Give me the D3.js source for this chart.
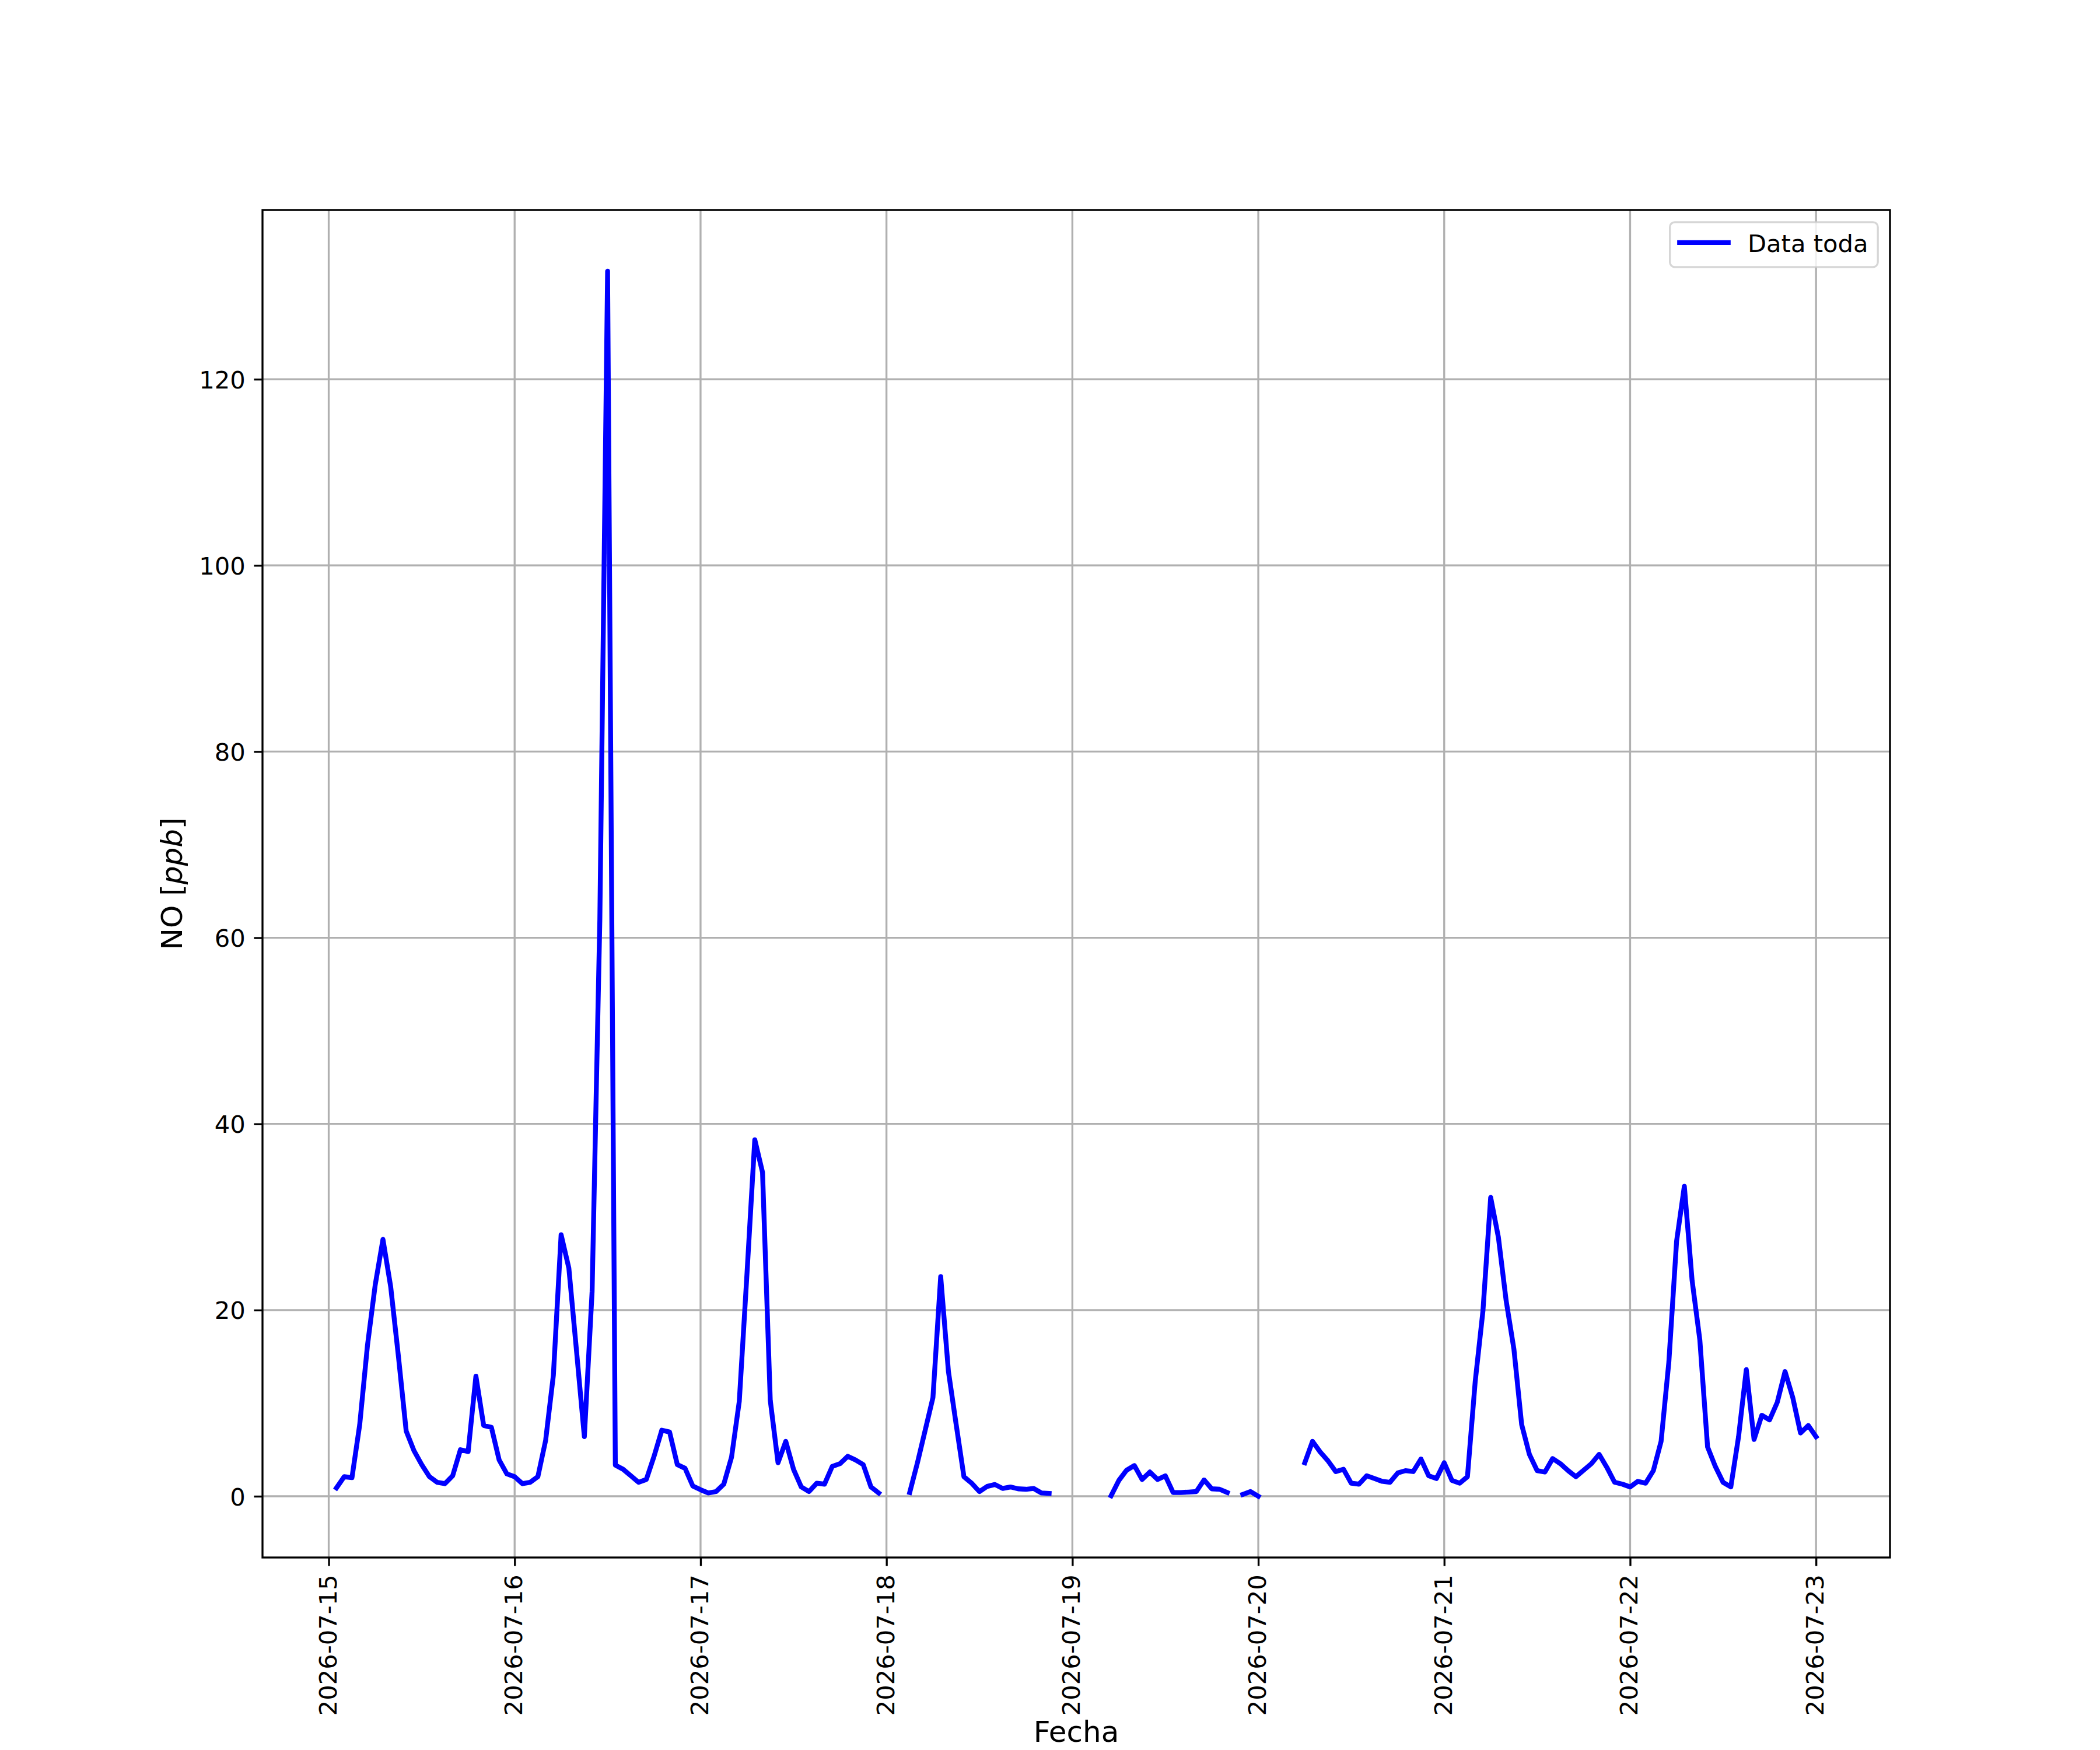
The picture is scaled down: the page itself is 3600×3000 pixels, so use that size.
<!DOCTYPE html>
<html>
<head>
<meta charset="utf-8">
<script src="https://cdn.jsdelivr.net/npm/d3@7"></script>
<style>
  body { margin: 0; background: #fff; }
  text { font-family: "DejaVu Sans", sans-serif; }
</style>
</head>
<body>
<div class="canvas"></div>
<script>
// hourly NO readings, one array per day starting at 00:00 (null = no data)
const startTime = '2026-07-15T00:00:00Z'
const jul15 = [null, 0.9, 2.1, 2.0, 7.7, 16.2, 22.7, 27.6, 22.5, 15.0, 7.0, 4.9, 3.4, 2.1, 1.5, 1.35, 2.2, 5.0, 4.8, 12.9, 7.6, 7.4, 3.9, 2.4]
const jul16 = [2.1, 1.35, 1.5, 2.1, 6.0, 13.0, 28.1, 24.5, 15.5, 6.4, 22.0, 62.0, 131.6, 3.35, 2.9, 2.2, 1.5, 1.8, 4.3, 7.1, 6.9, 3.4, 3.0, 1.1]
const jul17 = [0.7, 0.35, 0.5, 1.3, 4.2, 10.2, 24.0, 38.3, 34.8, 10.3, 3.6, 5.9, 2.9, 1.0, 0.5, 1.4, 1.3, 3.2, 3.5, 4.3, 3.9, 3.4, 1.0, 0.35]
const jul18 = [null, null, null, 0.4, 3.6, 7.1, 10.6, 23.6, 13.4, 7.7, 2.1, 1.4, 0.5, 1.06, 1.26, 0.84, 1.0, 0.8, 0.75, 0.84, 0.35, 0.3, null, null]
const jul19 = [null, null, null, null, null, 0.05, 1.7, 2.8, 3.3, 1.8, 2.6, 1.8, 2.2, 0.4, 0.4, 0.45, 0.5, 1.75, 0.8, 0.75, 0.4, null, 0.2, 0.5]
const jul20 = [0.0, null, null, null, null, null, 3.6, 5.9, 4.75, 3.8, 2.65, 2.9, 1.4, 1.3, 2.2, 1.9, 1.6, 1.5, 2.5, 2.75, 2.65, 4.0, 2.2, 1.9]
const jul21 = [3.6, 1.7, 1.4, 2.1, 12.3, 19.9, 32.1, 27.8, 21.0, 15.8, 7.7, 4.5, 2.75, 2.6, 4.05, 3.5, 2.75, 2.1, 2.8, 3.5, 4.5, 3.1, 1.5, 1.3]
const jul22 = [1.0, 1.6, 1.4, 2.75, 5.9, 14.4, 27.4, 33.3, 23.2, 16.8, 5.3, 3.2, 1.5, 1.0, 6.4, 13.6, 6.1, 8.7, 8.2, 10.1, 13.4, 10.6, 6.8, 7.6]
const jul23 = [6.4]
const days = [jul15, jul16, jul17, jul18, jul19, jul20, jul21, jul22, jul23]

const yTicks = [0, 20, 40, 60, 80, 100, 120]
const seriesName = 'Data toda'
const xTitle = 'Fecha'

const width = 3600
const height = 3000
const margin = {top: 360, right: 360, bottom: 330, left: 450}
const graphWidth = width - margin.left - margin.right
const graphHeight = height - margin.top - margin.bottom
const pt = 300 / 72
const tickFont = 10 * pt
const labelFont = 12 * pt

const svg = d3.select('.canvas')
  .append('svg')
  .attr('width', width)
  .attr('height', height)

svg.append('rect').attr('width', width).attr('height', height).attr('fill', '#fff')

const t0 = Date.parse(startTime)
const data = days.flat().map((v, i) => ({date: new Date(t0 + i * 3600e3), value: v}))
const valid = data.filter(d => d.value != null)

// matplotlib-like 5% margins
const padExtent = ext => {
  const span = ext[1] - ext[0]
  return [ext[0] - 0.05 * span, ext[1] + 0.05 * span]
}
const xDom = padExtent(d3.extent(valid, d => +d.date)).map(v => new Date(v))
const yDom = padExtent(d3.extent(valid, d => d.value))

const x = d3.scaleUtc().domain(xDom).range([0, graphWidth])
const y = d3.scaleLinear().domain(yDom).range([graphHeight, 0])
const xTicks = x.ticks(d3.utcDay.every(1))

const graph = svg.append('g')
  .attr('transform', `translate(${margin.left}, ${margin.top})`)

graph.append('clipPath').attr('id', 'clip')
  .append('rect').attr('width', graphWidth).attr('height', graphHeight)

// grid
graph.append('g').selectAll('line')
  .data(xTicks)
  .enter().append('line')
  .attr('x1', d => x(d)).attr('x2', d => x(d))
  .attr('y1', 0).attr('y2', graphHeight)
  .attr('stroke', '#b0b0b0').attr('stroke-width', 0.8 * pt)

graph.append('g').selectAll('line')
  .data(yTicks)
  .enter().append('line')
  .attr('x1', 0).attr('x2', graphWidth)
  .attr('y1', d => y(d)).attr('y2', d => y(d))
  .attr('stroke', '#b0b0b0').attr('stroke-width', 0.8 * pt)

// data line
const line = d3.line()
  .defined(d => d.value != null)
  .x(d => x(d.date))
  .y(d => y(d.value))

graph.append('path')
  .datum(data)
  .attr('clip-path', 'url(#clip)')
  .attr('d', line)
  .attr('fill', 'none')
  .attr('stroke', '#0000ff')
  .attr('stroke-width', 2 * pt)
  .attr('stroke-linejoin', 'round')
  .attr('stroke-linecap', 'square')

// axes
const xAxis = d3.axisBottom(x)
  .tickValues(xTicks)
  .tickSize(3.5 * pt)
  .tickFormat(d3.utcFormat('%Y-%m-%d'))

const xAxisGroup = graph.append('g')
  .attr('transform', `translate(0, ${graphHeight})`)
  .call(xAxis)

xAxisGroup.selectAll('text')
  .attr('transform', 'rotate(-90)')
  .attr('text-anchor', 'end')
  .attr('x', -7 * pt)
  .attr('y', 0)
  .attr('dy', '0.3em')

const yAxis = d3.axisLeft(y)
  .tickValues(yTicks)
  .tickSize(3.5 * pt)
  .tickPadding(3.5 * pt)

const yAxisGroup = graph.append('g').call(yAxis)
yAxisGroup.selectAll('text').attr('dy', '0.36em')

graph.selectAll('.domain').remove()
graph.selectAll('.tick line').attr('stroke', '#000').attr('stroke-width', 0.8 * pt)
graph.selectAll('.tick text')
  .attr('fill', '#000')
  .style('font-size', tickFont + 'px')
  .style('font-family', '"DejaVu Sans", sans-serif')

// spines
graph.append('rect')
  .attr('width', graphWidth)
  .attr('height', graphHeight)
  .attr('fill', 'none')
  .attr('stroke', '#000')
  .attr('stroke-width', 0.8 * pt)

// axis titles
svg.append('text')
  .attr('x', margin.left + graphWidth / 2)
  .attr('y', 2986)
  .attr('text-anchor', 'middle')
  .style('font-size', labelFont + 'px')
  .text(xTitle)

const yLabel = svg.append('text')
  .attr('transform', `translate(312, ${margin.top + graphHeight / 2}) rotate(-90)`)
  .attr('text-anchor', 'middle')
  .style('font-size', labelFont + 'px')
yLabel.append('tspan').text('NO [')
yLabel.append('tspan').style('font-style', 'italic').text('ppb')
yLabel.append('tspan').text(']')

// legend
const legendGroup = svg.append('g')
const legendText = legendGroup.append('text')
  .style('font-size', tickFont + 'px')
  .text(seriesName)
const textW = legendText.node().getComputedTextLength()
const boxW = 0.4 * tickFont + 2 * tickFont + 0.8 * tickFont + textW + 0.4 * tickFont
const boxH = 77
const boxX = margin.left + graphWidth - 0.5 * tickFont - boxW
const boxY = margin.top + 0.5 * tickFont

legendGroup.insert('rect', 'text')
  .attr('x', boxX).attr('y', boxY)
  .attr('width', boxW).attr('height', boxH)
  .attr('rx', 0.2 * tickFont)
  .attr('fill', '#fff').attr('fill-opacity', 0.8)
  .attr('stroke', '#cccccc').attr('stroke-opacity', 0.8)
  .attr('stroke-width', 0.8 * pt)

legendGroup.append('line')
  .attr('x1', boxX + 0.4 * tickFont).attr('x2', boxX + 2.4 * tickFont)
  .attr('y1', boxY + 35).attr('y2', boxY + 35)
  .attr('stroke', '#0000ff').attr('stroke-width', 2 * pt)
  .attr('stroke-linecap', 'square')

legendText
  .attr('x', boxX + 3.2 * tickFont)
  .attr('y', boxY + 51)
</script>
</body>
</html>
